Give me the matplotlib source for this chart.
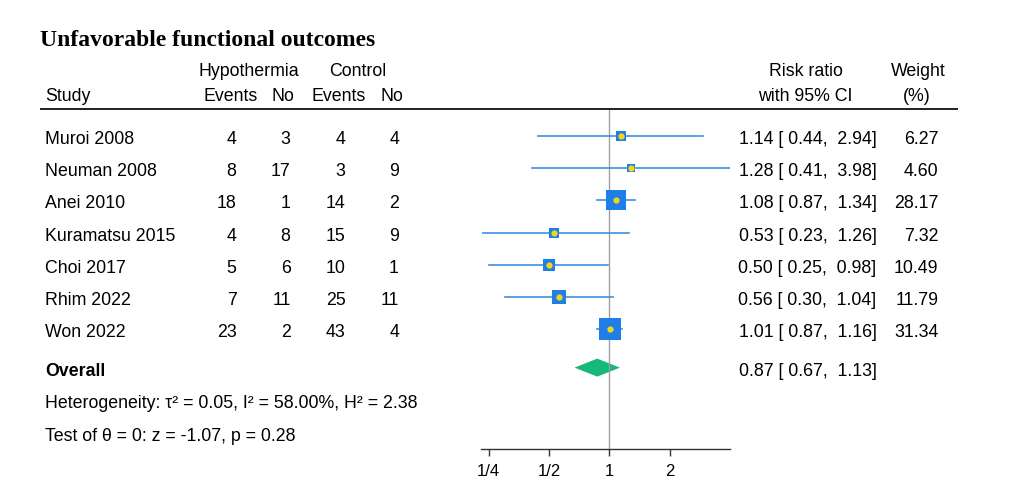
import matplotlib
matplotlib.use('Agg')
import matplotlib.pyplot as plt
from matplotlib.lines import Line2D
from matplotlib.transforms import blended_transform_factory

# study level data
studies = ['Muroi 2008', 'Neuman 2008', 'Anei 2010', 'Kuramatsu 2015',
           'Choi 2017', 'Rhim 2022', 'Won 2022']
hypo_events = [4, 8, 18, 4, 5, 7, 23]
hypo_no = [3, 17, 1, 8, 6, 11, 2]
ctrl_events = [4, 3, 14, 15, 10, 25, 43]
ctrl_no = [4, 9, 2, 9, 1, 11, 4]
rr = [1.14, 1.28, 1.08, 0.53, 0.50, 0.56, 1.01]
ci_lo = [0.44, 0.41, 0.87, 0.23, 0.25, 0.30, 0.87]
ci_hi = [2.94, 3.98, 1.34, 1.26, 0.98, 1.04, 1.16]
weights = [6.27, 4.60, 28.17, 7.32, 10.49, 11.79, 31.34]

overall_rr, overall_lo, overall_hi = 0.87, 0.67, 1.13
heterogeneity = 'Heterogeneity: τ² = 0.05, I² = 58.00%, H² = 2.38'
test_text = 'Test of θ = 0: z = -1.07, p = 0.28'

tick_vals = [0.25, 0.5, 1, 2]
tick_labels = ['1/4', '1/2', '1', '2']

W, H = 1018, 493
plt.rcParams['font.family'] = ['Liberation Sans', 'DejaVu Sans']
fig = plt.figure(figsize=(W / 100, H / 100), dpi=100)

def fx(p):
    return p / W

def fy(p):
    return 1 - p / H

# forest axes: top at the header rule, bottom at the x axis
ax = fig.add_axes([fx(481.5), fy(449), fx(248), fy(109) - fy(449)])
ax.set_xscale('log', base=2)
ax.set_xlim(min(ci_lo), max(ci_hi))
row_px = 32.17
ax.set_ylim((449 - 136) / row_px, (109 - 136) / row_px)

rows = list(range(len(studies)))
overall_y = 7.2
het_y = 8.2
test_y = 9.22

blue = '#1f7fe6'
line_blue = '#3d8fe6'
yellow = '#f2d61a'
green = '#17b97b'

ax.axvline(1, color='#a0a0a0', lw=1.0, zorder=2)
for y, r, lo, hi, w in zip(rows, rr, ci_lo, ci_hi, weights):
    ax.plot([lo, hi], [y, y], color=line_blue, lw=1.2, zorder=3)
    ax.plot(r, y, marker='s', ms=2.8 * w ** 0.5, color=blue, mew=0, zorder=4)
    ax.plot(r, y, marker='o', ms=4.5, color=yellow, mew=0, zorder=5)

h = 9 / row_px
ax.fill([overall_lo, overall_rr, overall_hi, overall_rr],
        [overall_y, overall_y - h, overall_y, overall_y + h],
        color=green, lw=0, zorder=1)

for s in ['top', 'left', 'right']:
    ax.spines[s].set_visible(False)
ax.spines['bottom'].set_color('#333333')
ax.spines['bottom'].set_linewidth(1.0)
ax.set_yticks([])
ax.set_xticks(tick_vals)
ax.set_xticklabels(tick_labels)
ax.minorticks_off()
ax.tick_params(axis='x', direction='out', length=5, width=1, color='#333333',
               labelsize=12, pad=6)
ax.patch.set_alpha(0)

# text columns: x in figure pixels, y in row units
tr = blended_transform_factory(fig.transFigure, ax.transData)
base = 8 / row_px
fs = 12.8

for y, name, a, b, c, d, r, lo, hi, w in zip(rows, studies, hypo_events, hypo_no,
                                             ctrl_events, ctrl_no, rr, ci_lo, ci_hi, weights):
    yb = y + base
    ax.text(fx(45), yb, name, transform=tr, fontsize=fs, va='baseline', ha='left')
    ax.text(fx(236.5), yb, str(a), transform=tr, fontsize=fs, va='baseline', ha='right')
    ax.text(fx(290.5), yb, str(b), transform=tr, fontsize=fs, va='baseline', ha='right')
    ax.text(fx(345.5), yb, str(c), transform=tr, fontsize=fs, va='baseline', ha='right')
    ax.text(fx(399), yb, str(d), transform=tr, fontsize=fs, va='baseline', ha='right')
    ax.text(fx(876.5), yb, f'{r:.2f} [{lo:5.2f}, {hi:5.2f}]', transform=tr,
            fontsize=fs, va='baseline', ha='right')
    ax.text(fx(938.5), yb, f'{w:.2f}', transform=tr, fontsize=fs, va='baseline', ha='right')

ax.text(fx(45), overall_y + base, 'Overall', transform=tr, fontsize=fs,
        fontweight='bold', va='baseline', ha='left')
ax.text(fx(876.5), overall_y + base,
        f'{overall_rr:.2f} [{overall_lo:5.2f}, {overall_hi:5.2f}]',
        transform=tr, fontsize=fs, va='baseline', ha='right')
ax.text(fx(45), het_y + base, heterogeneity, transform=tr, fontsize=fs,
        va='baseline', ha='left')
ax.text(fx(45), test_y + base, test_text, transform=tr, fontsize=fs,
        va='baseline', ha='left')

# headers
fig.text(fx(40.5), fy(46), 'Unfavorable functional outcomes', fontsize=17,
         fontweight='bold', family='Liberation Serif', va='baseline', ha='left')
fig.text(fx(248.5), fy(75.5), 'Hypothermia', fontsize=fs, va='baseline', ha='center')
fig.text(fx(358), fy(75.5), 'Control', fontsize=fs, va='baseline', ha='center')
fig.text(fx(45), fy(101.5), 'Study', fontsize=fs, va='baseline', ha='left')
fig.text(fx(230.5), fy(101.5), 'Events', fontsize=fs, va='baseline', ha='center')
fig.text(fx(283), fy(101.5), 'No', fontsize=fs, va='baseline', ha='center')
fig.text(fx(338.5), fy(101.5), 'Events', fontsize=fs, va='baseline', ha='center')
fig.text(fx(392), fy(101.5), 'No', fontsize=fs, va='baseline', ha='center')
fig.text(fx(806), fy(75.5), 'Risk ratio', fontsize=fs, va='baseline', ha='center')
fig.text(fx(805.5), fy(101.5), 'with 95% CI', fontsize=fs, va='baseline', ha='center')
fig.text(fx(918.5), fy(75.5), 'Weight', fontsize=fs, va='baseline', ha='center')
fig.text(fx(916.5), fy(101.5), '(%)', fontsize=fs, va='baseline', ha='center')

fig.add_artist(Line2D([fx(41), fx(957)], [fy(109), fy(109)], color='#222222',
                      lw=1.4, transform=fig.transFigure))

fig.savefig('out.png', dpi=100)
